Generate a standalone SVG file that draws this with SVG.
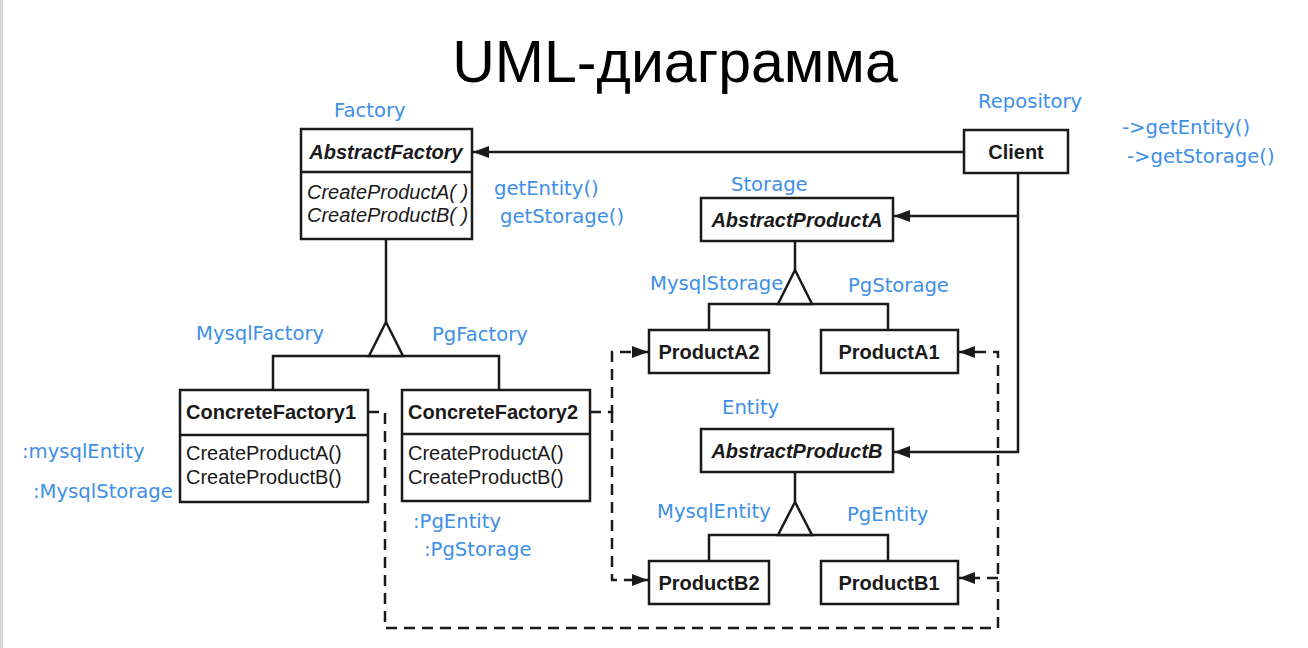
<svg xmlns="http://www.w3.org/2000/svg" width="1308" height="648" viewBox="0 0 1308 648">
<style>
.box{fill:#fff;stroke:#1a1a1a;stroke-width:2.5}
.ln{fill:none;stroke:#1a1a1a;stroke-width:2.5}
.dash{fill:none;stroke:#1a1a1a;stroke-width:2.5;stroke-dasharray:11 7}
.tri{fill:#fff;stroke:#1a1a1a;stroke-width:2.5;stroke-linejoin:miter}
.t{font-family:"Liberation Sans",Arial,sans-serif;font-size:20px;fill:#1a1a1a}
.b{font-weight:bold}
.i{font-style:italic}
.blue{font-family:"DejaVu Sans",Verdana,sans-serif;font-size:19.6px;fill:#3d8fe8}
</style>
<defs>
<marker id="ah" viewBox="0 0 16 12" refX="16" refY="6" markerWidth="16" markerHeight="12" markerUnits="userSpaceOnUse" orient="auto">
<path d="M0,0 L16,6 L0,12 Z" fill="#1a1a1a"/>
</marker>
</defs>
<rect x="0" y="0" width="1308" height="648" fill="#fff"/>
<rect x="0" y="0" width="3" height="648" fill="#d6d6d6"/>
<text x="675" y="82" text-anchor="middle" font-family="'Liberation Sans',Arial,sans-serif" font-size="59" fill="#000">UML-диаграмма</text>

<g id="connectors">
<path class="ln" d="M964,152 H473" marker-end="url(#ah)"/>
<path class="ln" d="M1018,173 V452 H894" marker-end="url(#ah)"/>
<path class="ln" d="M1018,216 H894" marker-end="url(#ah)"/>
<path class="ln" d="M386,239 V322"/>
<path class="ln" d="M273,390 V356 H499 V390"/>
<polygon class="tri" points="386,322 369,356 403,356"/>
<path class="ln" d="M795,241 V270"/>
<path class="ln" d="M709,330 V304 H888 V330"/>
<polygon class="tri" points="795,270 778,304 812,304"/>
<path class="ln" d="M795,472 V502"/>
<path class="ln" d="M709,561 V535 H888 V561"/>
<polygon class="tri" points="795,502 778,535 812,535"/>
<path class="dash" d="M368,412 H385 V628 H998 V352 H959" marker-end="url(#ah)"/>
<path class="dash" d="M998,578 H959" marker-end="url(#ah)"/>
<path class="dash" d="M590,412 H612 V352 H648" marker-end="url(#ah)"/>
<path class="dash" d="M612,412 V580 H648" marker-end="url(#ah)"/>
</g>

<g id="AbstractFactory">
<rect class="box" x="301" y="129" width="171" height="110"/>
<line class="ln" x1="301" y1="172" x2="472" y2="172"/>
<text class="t b i" x="386" y="159" text-anchor="middle">AbstractFactory</text>
<text class="t i" x="307" y="199">CreateProductA( )</text>
<text class="t i" x="307" y="222">CreateProductB( )</text>
</g>
<g id="Client">
<rect class="box" x="964" y="130" width="104" height="43"/>
<text class="t b" x="1016" y="159" text-anchor="middle">Client</text>
</g>
<g id="ConcreteFactory1">
<rect class="box" x="180" y="390" width="188" height="112"/>
<line class="ln" x1="180" y1="435" x2="368" y2="435"/>
<text class="t b" x="186" y="419">ConcreteFactory1</text>
<text class="t" x="186" y="460">CreateProductA()</text>
<text class="t" x="186" y="484">CreateProductB()</text>
</g>
<g id="ConcreteFactory2">
<rect class="box" x="402" y="390" width="188" height="111"/>
<line class="ln" x1="402" y1="434" x2="590" y2="434"/>
<text class="t b" x="408" y="419">ConcreteFactory2</text>
<text class="t" x="408" y="460">CreateProductA()</text>
<text class="t" x="408" y="484">CreateProductB()</text>
</g>
<g id="AbstractProductA">
<rect class="box" x="701" y="198" width="192" height="43"/>
<text class="t b i" x="797" y="227" text-anchor="middle">AbstractProductA</text>
</g>
<g id="ProductA2">
<rect class="box" x="649" y="330" width="120" height="43"/>
<text class="t b" x="709" y="359" text-anchor="middle">ProductA2</text>
</g>
<g id="ProductA1">
<rect class="box" x="821" y="330" width="137" height="43"/>
<text class="t b" x="889" y="359" text-anchor="middle">ProductA1</text>
</g>
<g id="AbstractProductB">
<rect class="box" x="701" y="429" width="192" height="43"/>
<text class="t b i" x="797" y="458" text-anchor="middle">AbstractProductB</text>
</g>
<g id="ProductB2">
<rect class="box" x="649" y="561" width="120" height="43"/>
<text class="t b" x="709" y="590" text-anchor="middle">ProductB2</text>
</g>
<g id="ProductB1">
<rect class="box" x="821" y="561" width="137" height="43"/>
<text class="t b" x="889" y="590" text-anchor="middle">ProductB1</text>
</g>

<g id="annotations">
<text class="blue" x="334" y="117">Factory</text>
<text class="blue" x="978" y="108">Repository</text>
<text class="blue" x="1122" y="134">-&gt;getEntity()</text>
<text class="blue" x="1127" y="163">-&gt;getStorage()</text>
<text class="blue" x="494" y="195">getEntity()</text>
<text class="blue" x="500" y="223">getStorage()</text>
<text class="blue" x="731" y="191">Storage</text>
<text class="blue" x="650" y="290">MysqlStorage</text>
<text class="blue" x="848" y="292">PgStorage</text>
<text class="blue" x="196" y="340">MysqlFactory</text>
<text class="blue" x="432" y="341">PgFactory</text>
<text class="blue" x="722" y="414">Entity</text>
<text class="blue" x="22" y="458">:mysqlEntity</text>
<text class="blue" x="33" y="498">:MysqlStorage</text>
<text class="blue" x="413" y="528">:PgEntity</text>
<text class="blue" x="424" y="556">:PgStorage</text>
<text class="blue" x="657" y="518">MysqlEntity</text>
<text class="blue" x="847" y="521">PgEntity</text>
</g>
</svg>
